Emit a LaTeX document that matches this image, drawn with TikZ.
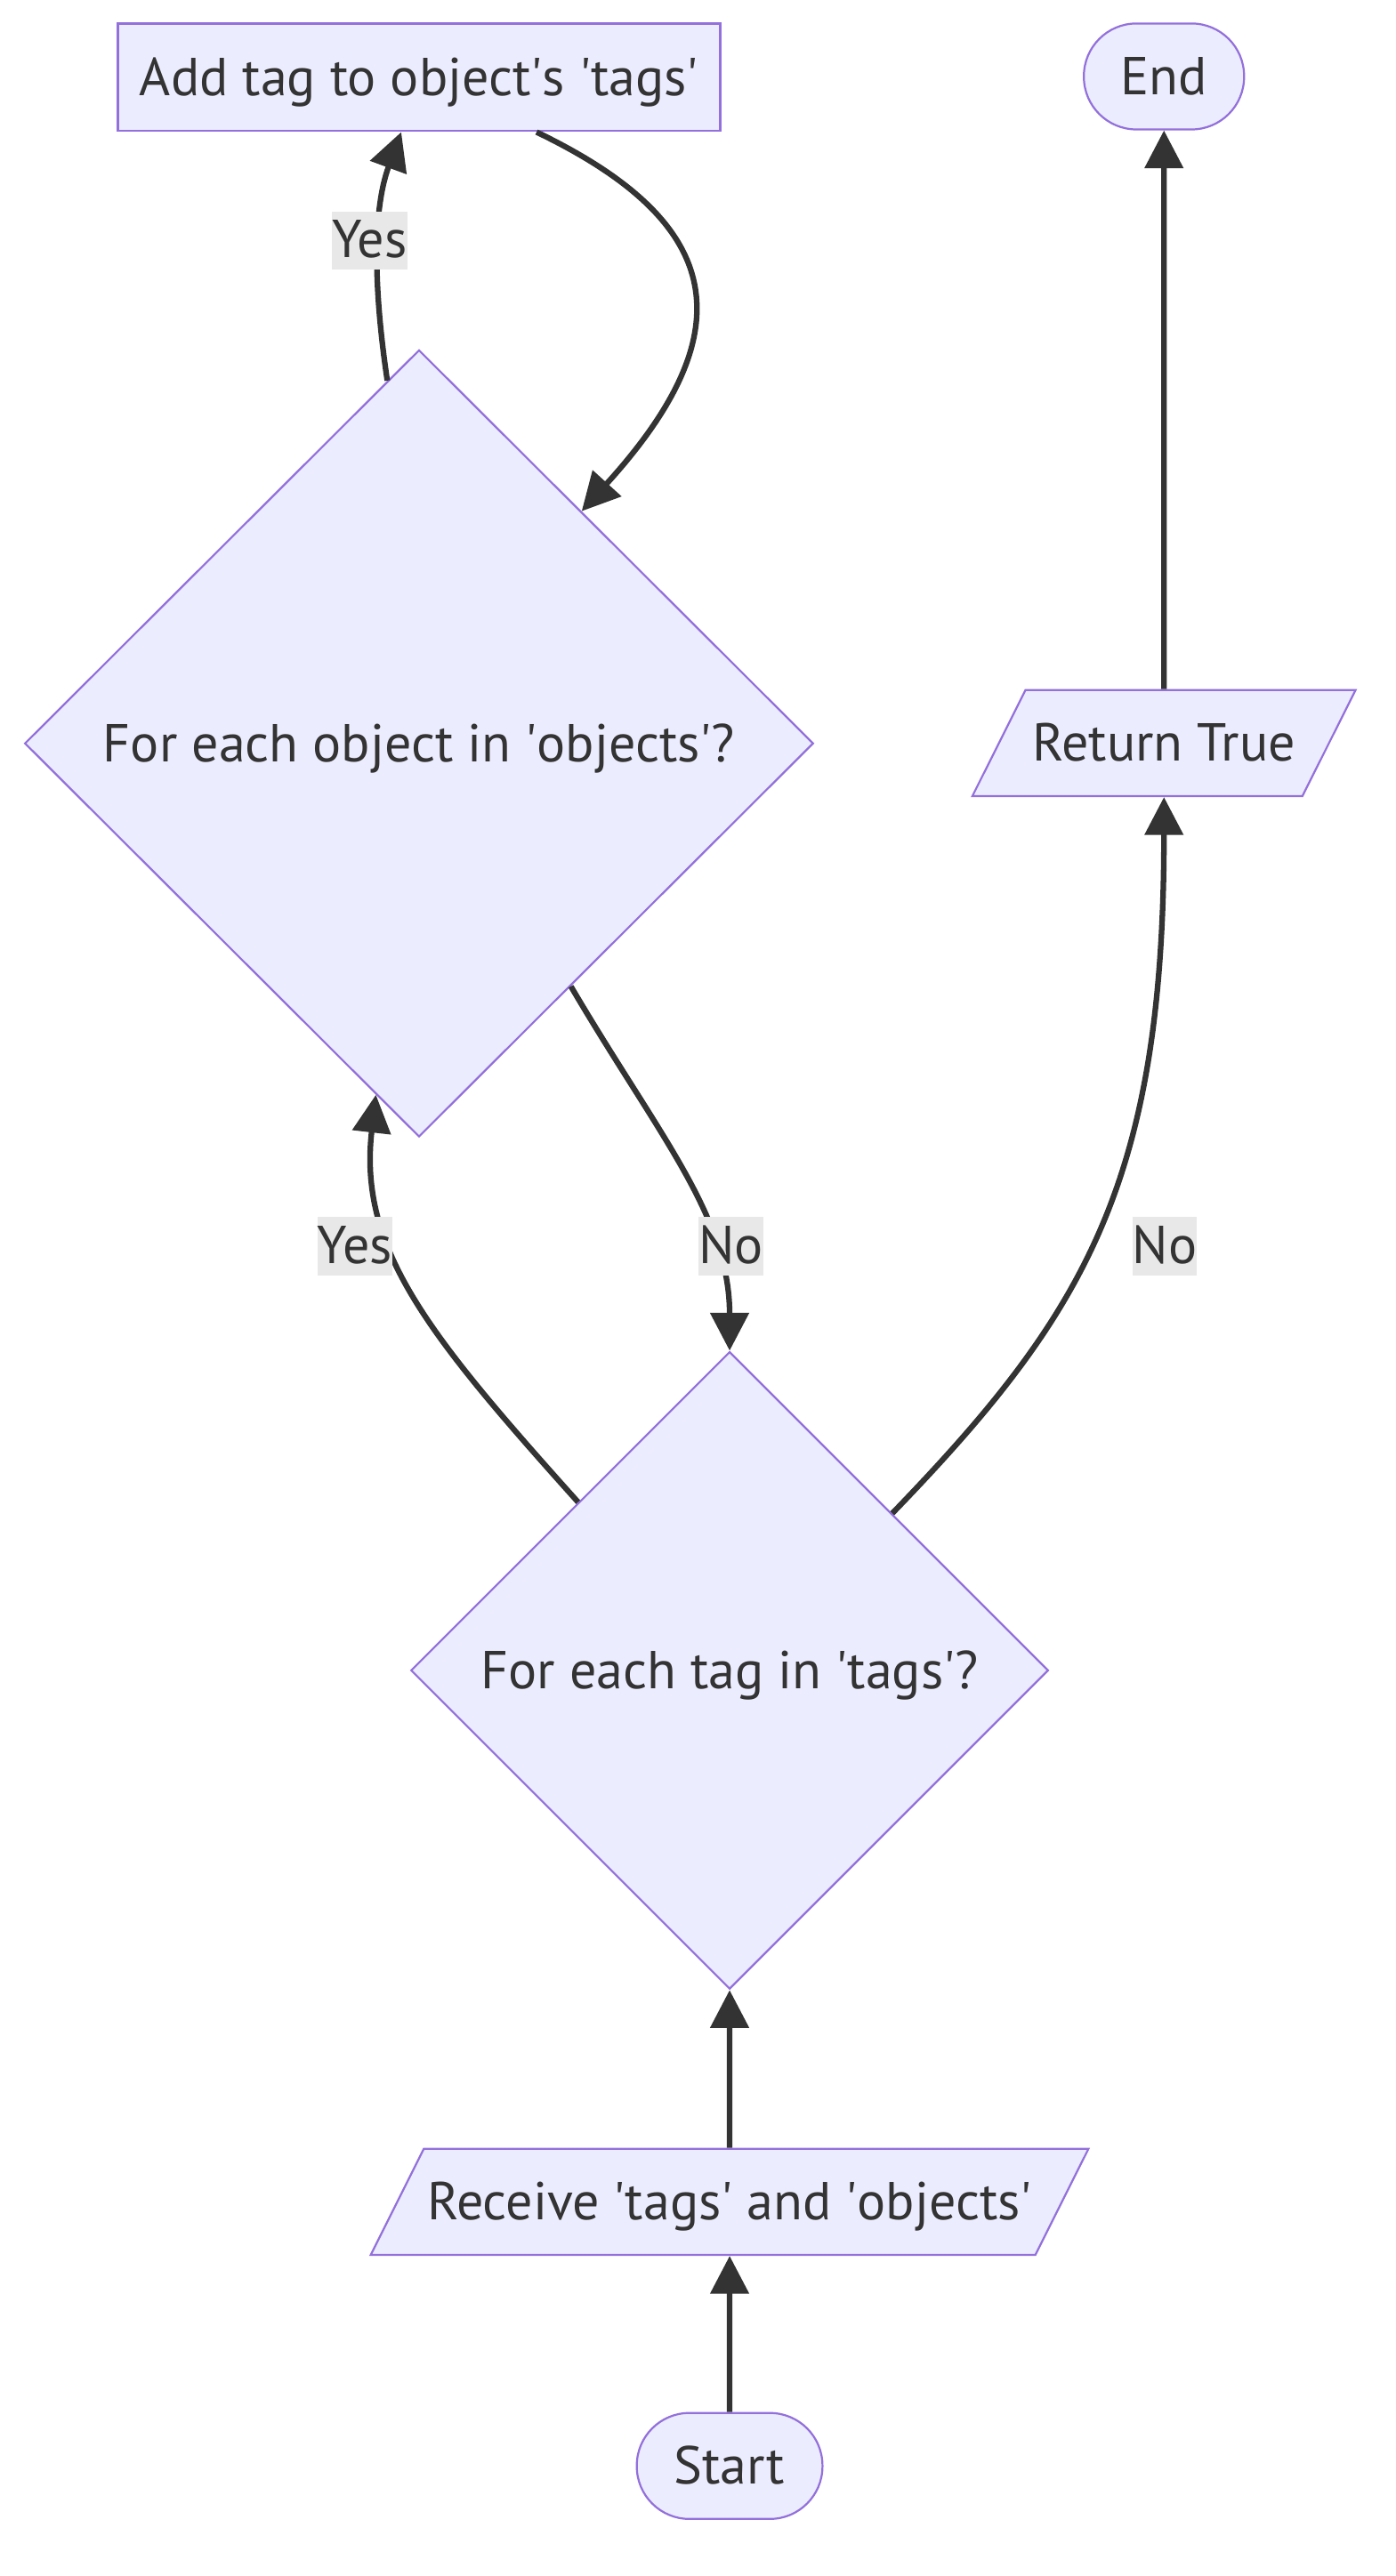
\documentclass[tikz,border=0pt]{standalone}
\usepackage{fontspec}
\setmainfont{PT Sans}
\usepackage{tikz}
\usetikzlibrary{arrows.meta,positioning,shapes.geometric}
\definecolor{mfill}{HTML}{ECECFF}
\definecolor{mline}{HTML}{9370DB}
\definecolor{mtext}{HTML}{333333}
\definecolor{mlabel}{HTML}{E8E8E8}
\newcommand{\tq}{\textquotesingle}

\begin{document}
\begin{tikzpicture}[x=1pt,y=-1pt,
  node distance=95pt,
  base/.style={draw=mline,fill=mfill,line width=1.2pt,text=mtext,inner sep=0pt,text height=25.5pt,text depth=3.5pt,font=\fontsize{32.5}{39}\selectfont},
  term/.style={base,rounded corners=32pt,minimum height=64.5pt},
  proc/.style={base,minimum width=366.6pt,minimum height=65.5pt},
  io/.style={base,trapezium,trapezium left angle=63.4,trapezium right angle=116.6,trapezium stretches body,inner ysep=17.8pt},
  decide/.style={base,diamond,aspect=1},
  lbl/.style={fill=mlabel,text=mtext,inner sep=0pt,minimum height=35.5pt,text height=24pt,text depth=3pt,font=\fontsize{32.5}{39}\selectfont},
  arr/.style={-{Triangle[length=23pt,width=23pt]},line width=3.4pt,mtext}]
\useasboundingbox (0,0) rectangle (849,1568);
\node[term,minimum width=113pt] (start) at (444,1501) {Start};
\node[io,minimum width=436.8pt,above=of start] (recv) {Receive \tq tags\tq{} and \tq objects\tq};
\node[decide,minimum width=388pt,minimum height=388pt,above=96pt of recv] (tagq) {For each tag in \tq tags\tq?};
\node[decide,minimum width=480pt,minimum height=479pt] (objq) at (255,452.5) {For each object in \tq objects\tq?};
\node[proc,above=132pt of objq] (addtag) {Add tag to object\tq s \tq tags\tq};
\node[io,minimum width=233.2pt] (ret) at (708.3,452.3) {Return True};
\node[term,minimum width=97.5pt,above=340pt of ret] (end) {End};

\draw[arr] (start) -- (recv);
\draw[arr] (recv) -- (tagq);
\draw[arr] (tagq.132) .. controls (260,812) and (218,760) .. (objq.-97);
\draw[arr] (objq.-58) .. controls (400,690) and (444,740) .. (tagq.north);
\draw[arr] (tagq.44) .. controls (660,800) and (708.3,720) .. (ret.south);
\draw[arr] (objq.95) .. controls (228,180) and (226,130) .. (addtag.-108);
\draw[arr] (addtag.-25) .. controls (440,135) and (455,200) .. (objq.55);
\draw[arr] (ret) -- (end);

% edge labels
\node[lbl] (yesadd) at (225,146.5) {Yes};
\node[lbl] (yesobj) at (216,758.6) {Yes};
\node[lbl] (notag) at (444.7,758.6) {No};
\node[lbl] (noret) at (708.8,758.6) {No};
\end{tikzpicture}
\end{document}
